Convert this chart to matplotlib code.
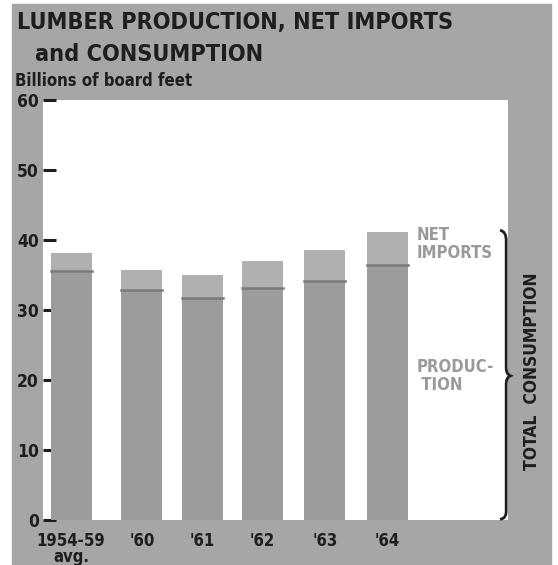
import matplotlib.pyplot as plt
from matplotlib.patches import Rectangle, PathPatch
from matplotlib.path import Path

# Lumber supply, billions of board feet
years = ["1954-59\navg.", "'60", "'61", "'62", "'63", "'64"]
production = [35.6, 32.8, 31.7, 33.2, 34.2, 36.5]
net_imports = [2.5, 2.9, 3.3, 3.8, 4.4, 4.7]
yticks = [0, 10, 20, 30, 40, 50, 60]

xpos = [0, 1.16, 2.15, 3.14, 4.16, 5.18]

W, H = 558, 565
panel = "#a6a6a6"
prod_color = "#9c9c9c"
imp_color = "#b0b0b0"
ink = "#1e1e1e"
label_gray = "#9a9a9a"
font = dict(family="DejaVu Sans", stretch="condensed", weight="bold")


def fx(x):
    return x / W


def fy(y):
    return 1 - y / H


fig = plt.figure(figsize=(W / 100, H / 100), dpi=100)
fig.patch.set_facecolor("white")
fig.patches.append(Rectangle((fx(12), 0), fx(551) - fx(12), fy(4),
                             transform=fig.transFigure, color=panel, zorder=-5))

ax = fig.add_axes([fx(43), fy(520), fx(508) - fx(43), fy(100) - fy(520)])
ax.set_zorder(2)
ax.set_facecolor("white")

ax.bar(xpos, production, width=0.67, color=prod_color, zorder=2)
tops = [p + n for p, n in zip(production, net_imports)]
ax.bar(xpos, net_imports, bottom=production, width=0.67, color=imp_color, zorder=2)
for x, p in zip(xpos, production):
    ax.plot([x - 0.335, x + 0.335], [p, p], color="#7a7a7a", lw=1.8, zorder=3)

ax.set_xlim(-0.46, 7.16)
ax.set_ylim(0, 60)
for s in ax.spines.values():
    s.set_visible(False)

ax.set_yticks(yticks)
ax.set_yticklabels([str(t) for t in yticks], fontsize=12.5, color=ink, **font)
ax.tick_params(axis="y", direction="in", length=9, width=2.2, color=ink, pad=3)
ax.set_xticks(xpos)
ax.set_xticklabels(years, fontsize=12, color=ink, linespacing=0.8, **font)
ax.tick_params(axis="x", length=0, pad=9)

# side labels
ax.text(5.67, 42.0, "NET\nIMPORTS", fontsize=12, color=label_gray, va="top",
        ha="left", linespacing=1.0, **font)
ax.text(5.66, 23.2, "PRODUC-\n TION", fontsize=12, color=label_gray, va="top",
        ha="left", linespacing=1.0, **font)

# brace around 1964 total consumption
total = tops[-1]
mid = total / 2
x0, x1, xt = 7.03, 7.13, 7.2
verts = [(x0, total + 0.2), (x1, total), (x1, total - 1.2),
         (x1, mid + 1.2),
         (x1, mid + 0.2), (xt, mid),
         (x1, mid - 0.2), (x1, mid - 1.2),
         (x1, 1.2),
         (x1, 0.2), (x0, 0.1)]
codes = [Path.MOVETO, Path.CURVE3, Path.CURVE3,
         Path.LINETO,
         Path.CURVE3, Path.CURVE3,
         Path.CURVE3, Path.CURVE3,
         Path.LINETO,
         Path.CURVE3, Path.CURVE3]
ax.add_patch(PathPatch(Path(verts, codes), fill=False, lw=2.0, ec=ink,
                       clip_on=False, zorder=4))

fig.text(fx(532), fy(371), "TOTAL  CONSUMPTION", rotation=90, fontsize=12.5,
         color=ink, ha="center", va="center", **font)

# headings
fig.text(fx(17), fy(11), "LUMBER PRODUCTION, NET IMPORTS", fontsize=16.8,
         color=ink, ha="left", va="top", **font)
fig.text(fx(35), fy(43), "and CONSUMPTION", fontsize=16.8,
         color=ink, ha="left", va="top", **font)
fig.text(fx(15), fy(72), "Billions of board feet", fontsize=12,
         color=ink, ha="left", va="top", **font)

fig.savefig("out.png", dpi=100, facecolor=fig.get_facecolor())
